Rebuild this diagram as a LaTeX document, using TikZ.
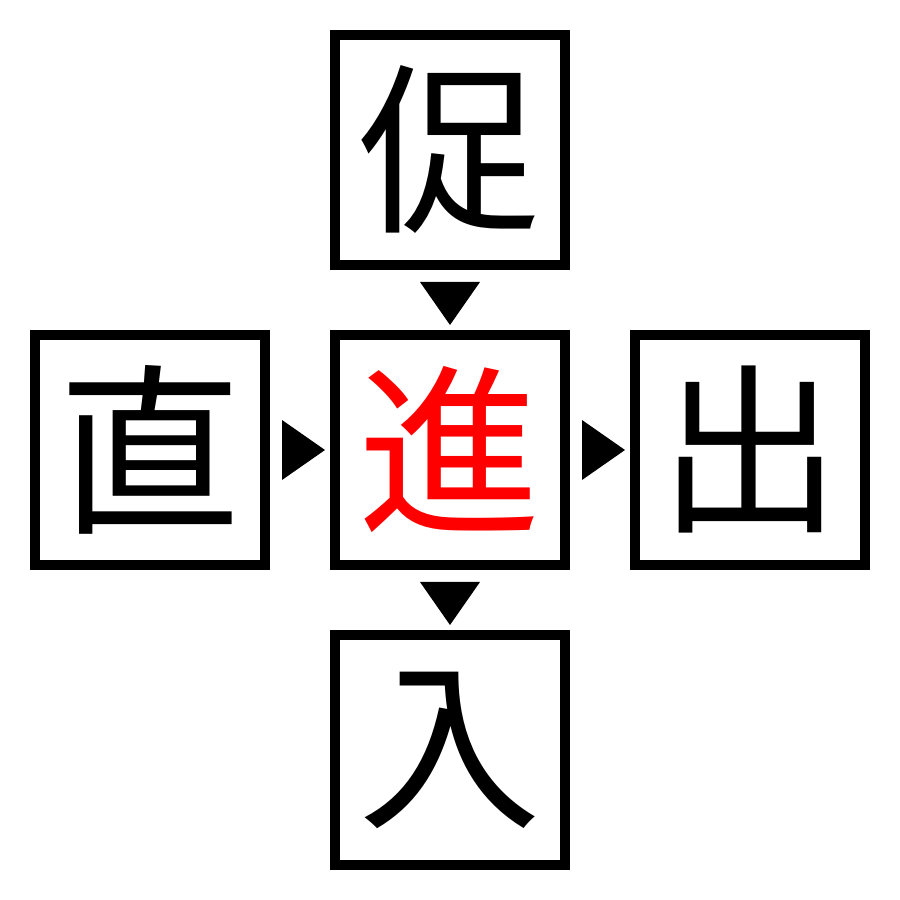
\documentclass[tikz,border=0pt]{standalone}
\usepackage{fontspec}
\newfontfamily\cjk{Noto Sans CJK JP}
\usetikzlibrary{positioning}
\begin{document}
\begin{tikzpicture}
					[every node/.style={draw,line width=1mm,minimum size=2.3cm,inner sep=0pt,font=\cjk\fontsize{52}{52}\selectfont},
					node distance=0.6cm]
					\useasboundingbox (0,0) rectangle (9,9);
					\node (jin) at (4.5,4.5) {\textcolor{red}{進}};
					\node[above=of jin] (soku) {促};
					\node[left=of jin] (choku) {直};
					\node[right=of jin] (shutsu) {出};
					\node[below=of jin] (nyu) {入};
					% pointers
					\fill (choku.east) ++(0.12,0.3) -- ++(0,-0.6) -- ++(0.43,0.3) -- cycle;
					\fill (jin.east) ++(0.12,0.3) -- ++(0,-0.6) -- ++(0.43,0.3) -- cycle;
					\fill (soku.south) ++(-0.3,-0.12) -- ++(0.6,0) -- ++(-0.3,-0.43) -- cycle;
					\fill (jin.south) ++(-0.3,-0.12) -- ++(0.6,0) -- ++(-0.3,-0.43) -- cycle;
				\end{tikzpicture}
\end{document}
